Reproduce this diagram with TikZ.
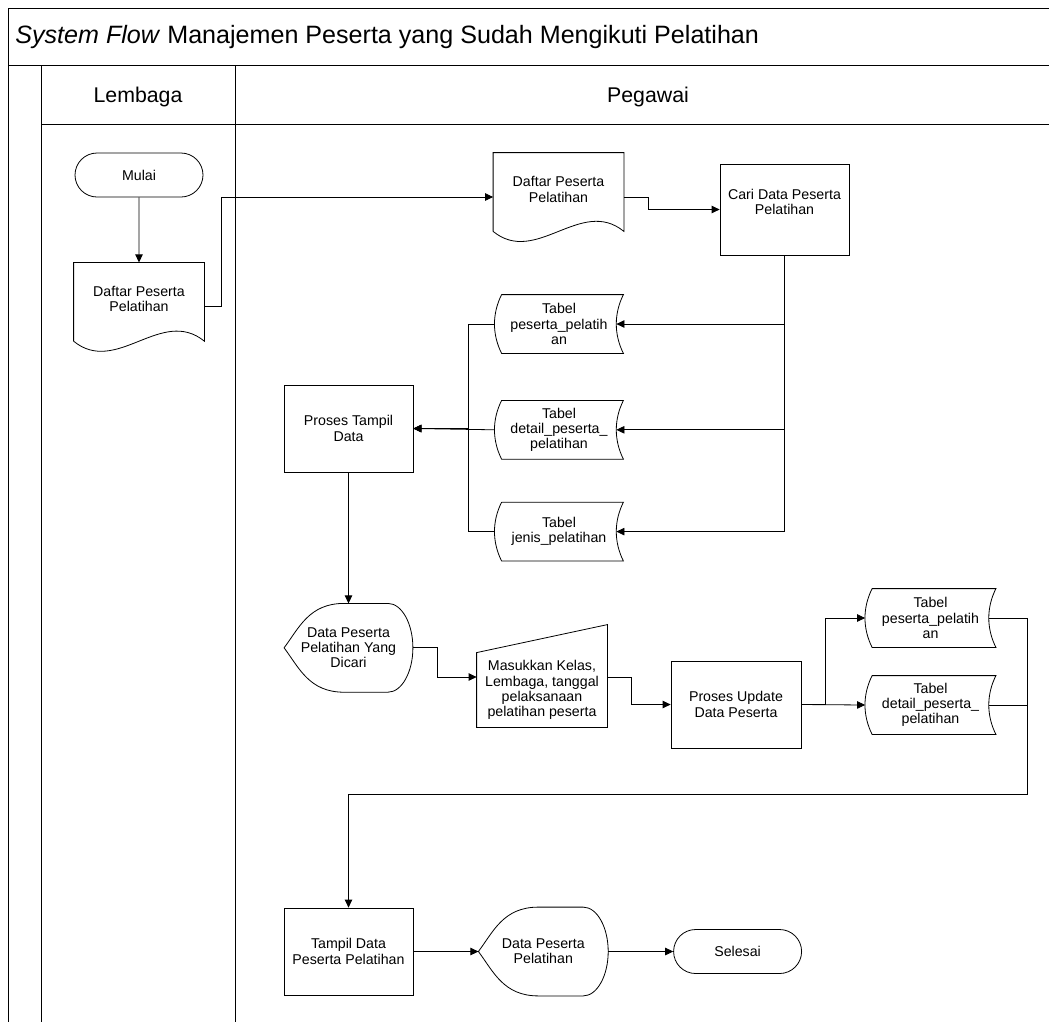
\documentclass[tikz,border=0pt]{standalone}
\usepackage{fontspec}
\setmainfont{Liberation Sans}
\usetikzlibrary{positioning,shapes.misc,arrows.meta}

\tikzset{
  box/.style={minimum width=129pt, minimum height=88pt, inner sep=1pt, align=center,
    font=\fontsize{14.2}{15.3}\selectfont},
  proc/.style={box, draw},
  term/.style={box, draw, rounded rectangle, minimum width=130pt, minimum height=44pt},
  docu/.style={box, minimum width=130pt},
  tabel/.style={box, minimum width=128pt, minimum height=58pt},
  disp/.style={box, minimum width=128pt},
  manin/.style={box, minimum width=130pt, minimum height=74pt},
  lane/.style={inner sep=0pt, font=\fontsize{21.3}{24}\selectfont},
  arr/.style={-{Triangle[length=8pt,width=7.5pt]}},
}

% outlines of the flowchart symbols
\newcommand\docout[1]{\draw ([yshift=10pt]#1.south west) -- (#1.north west) -- (#1.north east)
  -- ([yshift=10pt]#1.south east) .. controls +(-43,35) and +(43,-35) .. ([yshift=10pt]#1.south west);}
\newcommand\tabout[1]{\draw ([xshift=7pt]#1.north west) -- (#1.north east)
  .. controls +(-9.5,-19) and +(-9.5,19) .. (#1.south east) -- ([xshift=7pt]#1.south west)
  .. controls +(-9.5,19) and +(-9.5,-19) .. ([xshift=7pt]#1.north west);}
\newcommand\dispout[1]{\draw ([xshift=60pt]#1.north west) -- ([xshift=-25pt]#1.north east)
  .. controls +(14,0) and +(0,24) .. (#1.east)
  .. controls +(0,-24) and +(14,0) .. ([xshift=-25pt]#1.south east)
  -- ([xshift=60pt]#1.south west) .. controls +(-35,0) and +(15,-20) .. (#1.west)
  .. controls +(15,20) and +(-35,0) .. ([xshift=60pt]#1.north west);}
\newcommand\manout[1]{\draw (#1.south west) -- (#1.north west) -- ([yshift=28pt]#1.north east)
  -- (#1.south east) -- cycle;}

\begin{document}
\begin{tikzpicture}[x=1pt, y=1pt, line width=0.8pt]
  \clip (0,0) rectangle (1049,-1021);
  \fill[white] (0,0) rectangle (1049,-1021);

  % frame and swimlanes
  \draw (1070,-8) -- (8,-8) -- (8,-1030);
  \draw (8,-65) -- (1070,-65);
  \draw (41,-65) -- (41,-1030);
  \draw (235,-65) -- (235,-1030);
  \draw (41,-124) -- (1070,-124);
  \node[anchor=base west, inner sep=0pt, font=\fontsize{25.1}{28}\selectfont] (title) at (15,-43)
    {\textit{System Flow} Manajemen Peserta yang Sudah Mengikuti Pelatihan};
  \node[lane, anchor=base] (lembaga) at (138,-102) {Lembaga};
  \node[lane, anchor=base] (pegawai) at (648,-102) {Pegawai};

  % Lembaga
  \node[term] (mulai) at (139,-175) {Mulai};
  \node[docu, below=65pt of mulai] (daftarL) {Daftar Peserta\\Pelatihan\\~};

  % Pegawai
  \node[docu] (daftar) at (558.5,-197) {Daftar Peserta\\Pelatihan\\~};
  \node[proc, minimum height=91pt] (cari) at (784.5,-209.5) {Cari Data Peserta\\Pelatihan\\~};
  \node[tabel] (tbPeserta) at (559,-324) {Tabel\\peserta\_pelatih\\an};
  \node[tabel, below=47pt of tbPeserta] (tbDetail) {Tabel\\detail\_peserta\_\\pelatihan};
  \node[tabel, below=43pt of tbDetail] (tbJenis) {Tabel\\jenis\_pelatihan};
  \node[proc, minimum height=87pt] (tampil) at (348.5,-428.5) {Proses Tampil\\Data};
  \node[disp, below=131pt of tampil] (dicari) {Data Peserta\\Pelatihan Yang\\Dicari};
  \node[manin] (masuk) at (542,-690) {Masukkan Kelas,\\Lembaga, tanggal\\pelaksanaan\\pelatihan peserta};
  \node[proc, minimum width=130pt, minimum height=87pt] (update) at (736,-704.5) {Proses Update\\Data Peserta};
  \node[tabel, minimum width=130pt] (tbPeserta2) at (930.5,-618) {Tabel\\peserta\_pelatih\\an};
  \node[tabel, minimum width=130pt] (tbDetail2) at (930.5,-705) {Tabel\\detail\_peserta\_\\pelatihan};
  \node[proc, minimum height=87pt] (tampilData) at (348.5,-951.5) {Tampil Data\\Peserta Pelatihan};
  \node[disp, minimum width=129pt, right=65pt of tampilData] (hasil) {Data Peserta\\Pelatihan};
  \node[term, right=65pt of hasil] (selesai) {Selesai};

  \docout{daftarL}
  \docout{daftar}
  \tabout{tbPeserta}
  \tabout{tbDetail}
  \tabout{tbJenis}
  \tabout{tbPeserta2}
  \tabout{tbDetail2}
  \dispout{dicari}
  \dispout{hasil}
  \manout{masuk}

  % connectors
  \draw[arr] (mulai) -- (daftarL);
  \draw[arr] (daftarL.east) -- ++(17,0) |- (daftar.west);
  \draw[arr] (daftar.east) -- ++(24,0) |- (cari.west);
  \foreach \tb in {tbPeserta,tbDetail,tbJenis}
    \draw[arr] (cari.south) |- ([xshift=-7pt]\tb.east);
  \draw[arr] (tbPeserta.west) -- ++(-26,0) |- (tampil.east);
  \draw[arr] (tbJenis.west) -- ++(-26,0) |- (tampil.east);
  \draw[arr] (tbDetail.west) -- (tampil.east);
  \draw[arr] (tampil) -- (dicari);
  \draw[arr] (dicari.east) -- ++(24,0) |- ([yshift=13pt]masuk.west);
  \draw[arr] ([yshift=13pt]masuk.east) -- ++(24,0) |- (update.west);
  \draw[arr] (update.east) -- ++(24,0) |- (tbPeserta2.west);
  \draw[arr] (update.east) -- (tbDetail2.west);
  \coordinate (balik) at (1027,-794);
  \draw[arr] ([xshift=-7pt]tbPeserta2.east) -| (balik) -| (tampilData.north);
  \draw ([xshift=-7pt]tbDetail2.east) -- (tbDetail2.east -| balik);
  \draw[arr] (tampilData) -- (hasil);
  \draw[arr] (hasil) -- (selesai);
\end{tikzpicture}
\end{document}
